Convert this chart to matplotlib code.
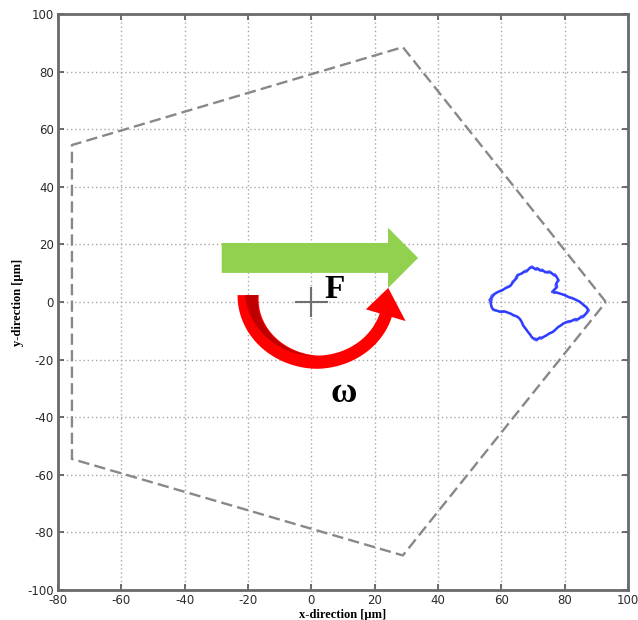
import numpy as np
import matplotlib
matplotlib.use("Agg")
import matplotlib.pyplot as plt
from matplotlib.patches import FancyArrow, Polygon

plt.rcParams['axes.unicode_minus'] = False

# Axis ticks
x_ticks = [-80, -60, -40, -20, 0, 20, 40, 60, 80, 100]
y_ticks = [-100, -80, -60, -40, -20, 0, 20, 40, 60, 80, 100]

# Boundary pentagon (closed)
pent_x = [93.0, 28.9, -75.6, -75.6, 28.9, 93.0]
pent_y = [0.0, 88.5, 54.5, -54.5, -88.0, 0.0]

# Measured orbit, two passes
orbit1_x = [56.4, 57.0, 58.2, 59.1, 60.6, 61.4, 63.0, 63.6, 64.9, 65.1, 66.5, 67.3, 68.2, 69.1, 69.7,
            70.6, 71.3, 72.1, 72.9, 73.8, 75.2, 76.2, 77.0, 77.6, 78.1, 77.4, 77.6, 76.8, 76.0, 77.2,
            78.6, 79.9, 81.3, 82.4, 83.9, 84.8, 86.0, 86.9, 87.6, 86.8, 85.8, 84.9, 83.7, 82.9, 81.6,
            80.6, 79.5, 78.9, 77.9, 77.1, 76.3, 75.3, 74.2, 73.5, 72.6, 71.9, 71.1, 70.3, 69.5, 69.1,
            68.4, 67.7, 66.8, 66.4, 65.8, 64.9, 63.7, 62.9, 61.6, 60.7, 59.5, 58.5, 57.4, 56.9, 56.4]
orbit1_y = [0.7, 2.2, 3.1, 3.6, 4.3, 4.9, 5.8, 7.1, 8.3, 9.4, 9.9, 10.7, 11.0, 12.0, 12.3,
            11.4, 11.8, 11.0, 11.2, 10.3, 10.6, 9.7, 9.5, 8.4, 7.5, 6.6, 5.2, 4.4, 3.5, 3.4,
            2.9, 2.5, 1.7, 1.4, 0.6, 0.1, -1.1, -1.8, -2.9, -4.0, -5.2, -5.5, -6.4, -6.2, -6.9,
            -7.0, -7.5, -8.1, -8.7, -9.6, -10.4, -10.8, -11.6, -12.0, -12.7, -12.5, -13.3, -12.9, -12.1, -11.3,
            -10.4, -9.3, -8.1, -6.9, -5.8, -5.0, -4.6, -4.0, -3.5, -3.2, -3.4, -3.0, -2.7, -1.8, 0.7]
orbit2_x = [57.0, 57.8, 59.0, 60.2, 61.0, 62.6, 63.5, 64.3, 64.6, 65.8, 66.9, 67.9, 68.8, 69.3, 70.2,
            71.0, 71.8, 72.5, 73.4, 74.6, 75.8, 76.5, 77.3, 77.9, 77.6, 77.0, 77.3, 76.4, 76.6, 77.8,
            79.2, 80.4, 81.8, 83.1, 84.3, 85.4, 86.4, 87.2, 87.0, 86.2, 85.2, 84.3, 83.3, 82.2, 81.1,
            80.1, 79.3, 78.4, 77.5, 76.7, 75.8, 74.8, 73.9, 73.0, 72.2, 71.5, 70.6, 69.9, 69.3, 68.7,
            68.0, 67.2, 66.7, 66.1, 65.3, 64.3, 63.3, 62.2, 61.2, 60.1, 59.0, 58.0, 57.2, 56.7, 57.0]
orbit2_y = [1.2, 2.6, 3.5, 3.9, 4.6, 5.3, 6.4, 7.6, 8.8, 9.6, 10.3, 10.4, 11.5, 11.8, 11.9,
            11.1, 11.5, 10.7, 10.8, 10.1, 10.2, 9.2, 8.9, 7.9, 7.0, 5.8, 4.8, 3.9, 3.1, 3.2,
            2.6, 2.1, 1.4, 0.9, 0.3, -0.5, -1.4, -2.4, -3.4, -4.6, -4.9, -5.9, -5.8, -6.5, -6.6,
            -7.2, -7.7, -8.3, -9.1, -9.9, -10.6, -11.2, -11.8, -12.3, -12.2, -12.9, -12.6, -12.5, -11.7, -10.8,
            -9.8, -8.6, -7.4, -6.3, -5.3, -4.8, -4.2, -3.8, -3.3, -3.6, -3.1, -2.9, -2.2, -0.9, 1.2]

fig = plt.figure(figsize=(6.38, 6.20), dpi=100)
ax = fig.add_axes([0.0909, 0.0484, 0.8935, 0.9290])
ax.set_xlim(-80, 100)
ax.set_ylim(-100, 100)
ax.set_xticks(x_ticks)
ax.set_yticks(y_ticks)
ax.tick_params(direction='in', length=4, width=1.2, top=True, right=True,
               labelsize=8.5, labelcolor='#2a2a2a', color='#555555', pad=3)
ax.grid(True, linestyle=(0, (1, 2)), color='#a8a8a8', linewidth=1.0)
ax.set_axisbelow(True)
for s in ax.spines.values():
    s.set_color('#6a6a6a')
    s.set_linewidth(2.0)

ax.set_xlabel('x-direction [µm]', fontsize=9, fontweight='bold',
              family=['Liberation Serif', 'DejaVu Serif'], labelpad=1)
ax.set_ylabel('y-direction [µm]', fontsize=9, fontweight='bold',
              family=['Liberation Serif', 'DejaVu Serif'], labelpad=2)

# Pentagon boundary
ax.plot(pent_x, pent_y, color='#888888', linewidth=1.7, dashes=(4.8, 2.2), zorder=3)

# Orbit
ax.plot(orbit1_x, orbit1_y, color='#1020ff', linewidth=1.8, alpha=0.75, zorder=4)
ax.plot(orbit2_x, orbit2_y, color='#2030ff', linewidth=1.4, alpha=0.7, zorder=4)

# Centre marker
ax.plot([-5, 5], [0, 0], color='#707070', linewidth=1.5, zorder=5)
ax.plot([0, 0], [-5, 5], color='#707070', linewidth=1.5, zorder=5)

# Force arrow
ax.add_patch(FancyArrow(-28.3, 15.3, 62.0, 0.0, width=10.4, head_width=21.0,
                        head_length=9.5, length_includes_head=True,
                        facecolor='#92d050', edgecolor='none', zorder=6))

# Rotation arrow (curved band with arrow head)
cx, cy = 2.0, 2.4
ang_nodes = [180.0, 270.0, 342.0]
r_out_nodes = [25.3, 25.6, 24.6]
r_in_nodes = [18.6, 21.0, 20.6]
th = np.linspace(180.0, 342.0, 120)
r_out = np.interp(th, ang_nodes, r_out_nodes)
r_in = np.interp(th, ang_nodes, r_in_nodes)
rad = np.deg2rad(th)
outer = np.column_stack([cx + r_out * np.cos(rad), cy + r_out * np.sin(rad)])
inner = np.column_stack([cx + r_in * np.cos(rad), cy + r_in * np.sin(rad)])
te = np.deg2rad(342.0)
radial = np.array([np.cos(te), np.sin(te)])
tangent = np.array([-0.15, 1.0])
tangent = tangent / np.hypot(*tangent) + np.array([-np.sin(te), np.cos(te)])
tangent = tangent / np.hypot(*tangent)
mid = np.array([cx, cy]) + 0.5 * (r_out_nodes[-1] + r_in_nodes[-1]) * radial
head = np.array([mid + 6.6 * radial, mid + 9.5 * tangent, mid - 6.6 * radial])
band = np.vstack([outer, head, inner[::-1]])
ax.add_patch(Polygon(band, closed=True, facecolor='#ff0000', edgecolor='none', zorder=6))

# Darker shading on the inner side of the first half
th2 = np.linspace(180.0, 268.0, 80)
r_a = np.interp(th2, ang_nodes, r_in_nodes) + 0.3
frac = np.interp(th2, [180.0, 268.0], [0.6, 0.0])
r_b = r_a + frac * (np.interp(th2, ang_nodes, r_out_nodes) - np.interp(th2, ang_nodes, r_in_nodes))
rad2 = np.deg2rad(th2)
shade = np.vstack([np.column_stack([cx + r_b * np.cos(rad2), cy + r_b * np.sin(rad2)]),
                   np.column_stack([cx + r_a * np.cos(rad2), cy + r_a * np.sin(rad2)])[::-1]])
ax.add_patch(Polygon(shade, closed=True, facecolor='#c00000', edgecolor='none', zorder=7))

ax.text(7.5, 4.2, 'F', fontsize=24, fontweight='bold', family=['Liberation Serif', 'DejaVu Serif'],
        ha='center', va='center', zorder=8)
ax.text(10.3, -31.6, 'ω', fontsize=26, fontweight='bold', family=['Liberation Serif', 'DejaVu Serif'],
        ha='center', va='center', zorder=8)

fig.savefig('out.png', dpi=100)
